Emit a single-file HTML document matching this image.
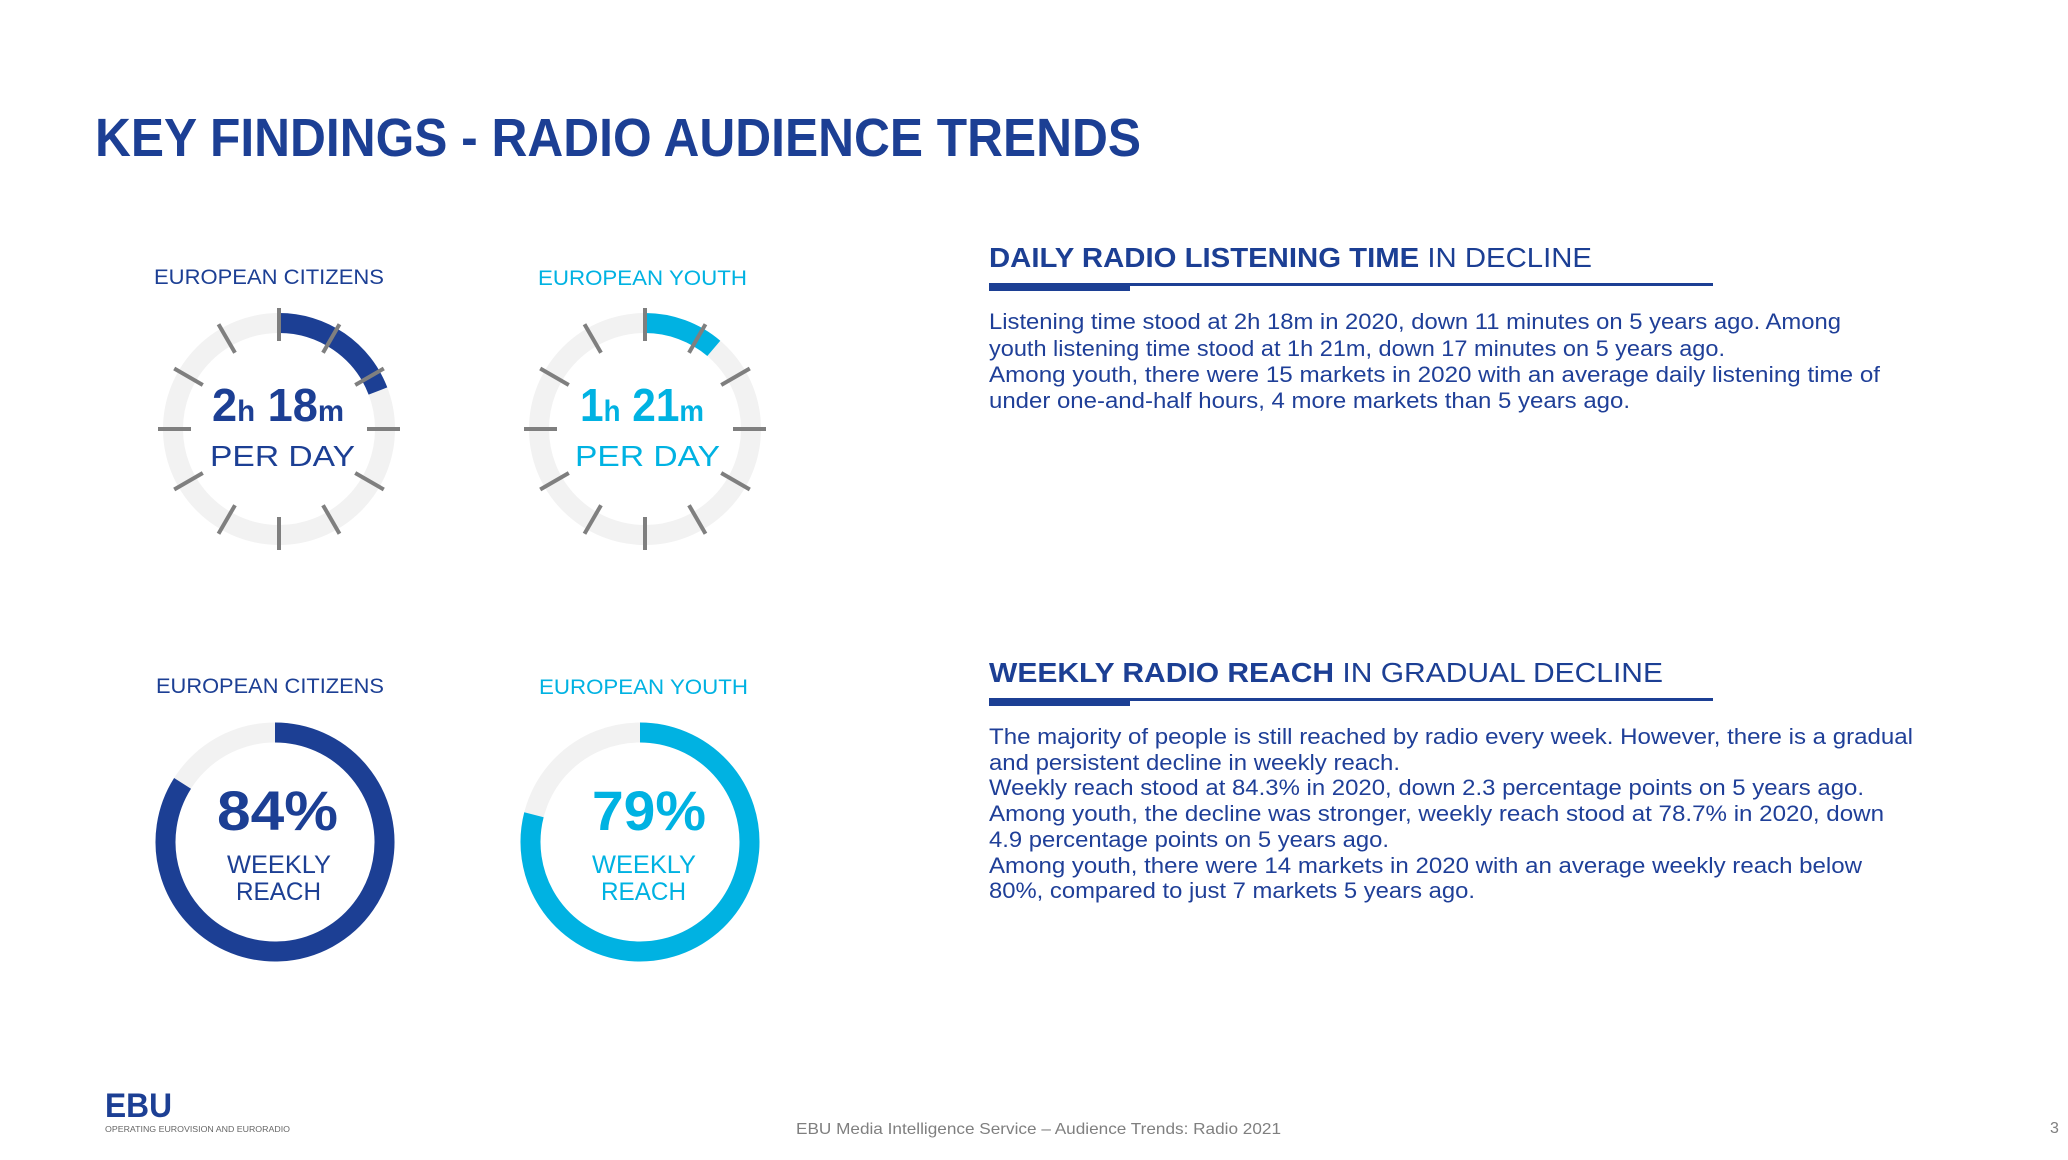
<!DOCTYPE html>
<html><head><meta charset="utf-8"><style>
html,body{margin:0;padding:0;background:#fff;}
svg{display:block;}
text{font-family:"Liberation Sans",sans-serif;}
</style></head><body>
<svg width="2068" height="1160" viewBox="0 0 2068 1160" xmlns="http://www.w3.org/2000/svg">
<rect width="2068" height="1160" fill="#fff"/>
<text x="95" y="156" font-size="54" font-weight="bold" fill="#1c3f94" textLength="1046" lengthAdjust="spacingAndGlyphs">KEY FINDINGS - RADIO AUDIENCE TRENDS</text>

<!-- labels -->
<text x="154" y="284" font-size="21" fill="#1c3f94" textLength="230" lengthAdjust="spacingAndGlyphs">EUROPEAN CITIZENS</text>
<text x="538" y="285" font-size="21" fill="#00b2e2" textLength="209" lengthAdjust="spacingAndGlyphs">EUROPEAN YOUTH</text>
<text x="156" y="693" font-size="21" fill="#1c3f94" textLength="228" lengthAdjust="spacingAndGlyphs">EUROPEAN CITIZENS</text>
<text x="539" y="694" font-size="21" fill="#00b2e2" textLength="209" lengthAdjust="spacingAndGlyphs">EUROPEAN YOUTH</text>

<!-- top citizens gauge -->
<circle cx="279" cy="429" r="106" fill="none" stroke="#f2f2f2" stroke-width="20"/>
<path d="M279 323 A106 106 0 0 1 377.96 391.0" fill="none" stroke="#1c3f94" stroke-width="20"/>
<g stroke="#7f7f7f" stroke-width="4">
<line x1="279" y1="308" x2="279" y2="341"/>
<line x1="279" y1="308" x2="279" y2="341" transform="rotate(30 279 429)"/>
<line x1="279" y1="308" x2="279" y2="341" transform="rotate(60 279 429)"/>
<line x1="279" y1="308" x2="279" y2="341" transform="rotate(90 279 429)"/>
<line x1="279" y1="308" x2="279" y2="341" transform="rotate(120 279 429)"/>
<line x1="279" y1="308" x2="279" y2="341" transform="rotate(150 279 429)"/>
<line x1="279" y1="308" x2="279" y2="341" transform="rotate(180 279 429)"/>
<line x1="279" y1="308" x2="279" y2="341" transform="rotate(210 279 429)"/>
<line x1="279" y1="308" x2="279" y2="341" transform="rotate(240 279 429)"/>
<line x1="279" y1="308" x2="279" y2="341" transform="rotate(270 279 429)"/>
<line x1="279" y1="308" x2="279" y2="341" transform="rotate(300 279 429)"/>
<line x1="279" y1="308" x2="279" y2="341" transform="rotate(330 279 429)"/>
</g>
<text x="212" y="421" font-weight="bold" fill="#1c3f94" textLength="132" lengthAdjust="spacingAndGlyphs"><tspan font-size="46">2</tspan><tspan font-size="30">h</tspan><tspan font-size="46"> 18</tspan><tspan font-size="30">m</tspan></text>
<text x="210" y="466" font-size="29" fill="#1c3f94" textLength="145" lengthAdjust="spacingAndGlyphs">PER DAY</text>

<!-- top youth gauge -->
<circle cx="645" cy="429" r="106" fill="none" stroke="#f2f2f2" stroke-width="20"/>
<path d="M645 323 A106 106 0 0 1 713.8 348.4" fill="none" stroke="#00b2e2" stroke-width="20"/>
<g stroke="#7f7f7f" stroke-width="4">
<line x1="645" y1="308" x2="645" y2="341"/>
<line x1="645" y1="308" x2="645" y2="341" transform="rotate(30 645 429)"/>
<line x1="645" y1="308" x2="645" y2="341" transform="rotate(60 645 429)"/>
<line x1="645" y1="308" x2="645" y2="341" transform="rotate(90 645 429)"/>
<line x1="645" y1="308" x2="645" y2="341" transform="rotate(120 645 429)"/>
<line x1="645" y1="308" x2="645" y2="341" transform="rotate(150 645 429)"/>
<line x1="645" y1="308" x2="645" y2="341" transform="rotate(180 645 429)"/>
<line x1="645" y1="308" x2="645" y2="341" transform="rotate(210 645 429)"/>
<line x1="645" y1="308" x2="645" y2="341" transform="rotate(240 645 429)"/>
<line x1="645" y1="308" x2="645" y2="341" transform="rotate(270 645 429)"/>
<line x1="645" y1="308" x2="645" y2="341" transform="rotate(300 645 429)"/>
<line x1="645" y1="308" x2="645" y2="341" transform="rotate(330 645 429)"/>
</g>
<text x="580" y="421" font-weight="bold" fill="#00b2e2" textLength="124" lengthAdjust="spacingAndGlyphs"><tspan font-size="46">1</tspan><tspan font-size="30">h</tspan><tspan font-size="46"> 21</tspan><tspan font-size="30">m</tspan></text>
<text x="575" y="466" font-size="29" fill="#00b2e2" textLength="145" lengthAdjust="spacingAndGlyphs">PER DAY</text>

<!-- bottom donuts -->
<circle cx="275" cy="842" r="109.5" fill="none" stroke="#f2f2f2" stroke-width="20"/>
<path d="M275 732.5 A109.5 109.5 0 1 1 182.55 783.33" fill="none" stroke="#1c3f94" stroke-width="20"/>
<text x="217" y="830" font-size="56" font-weight="bold" fill="#1c3f94" textLength="121" lengthAdjust="spacingAndGlyphs">84%</text>
<text x="227" y="873" font-size="25" fill="#1c3f94" textLength="104" lengthAdjust="spacingAndGlyphs">WEEKLY</text>
<text x="236" y="900" font-size="25" fill="#1c3f94" textLength="85" lengthAdjust="spacingAndGlyphs">REACH</text>

<circle cx="640" cy="842" r="109.5" fill="none" stroke="#f2f2f2" stroke-width="20"/>
<path d="M640 732.5 A109.5 109.5 0 1 1 533.94 814.77" fill="none" stroke="#00b2e2" stroke-width="20"/>
<text x="592" y="830" font-size="56" font-weight="bold" fill="#00b2e2" textLength="114" lengthAdjust="spacingAndGlyphs">79%</text>
<text x="592" y="873" font-size="25" fill="#00b2e2" textLength="104" lengthAdjust="spacingAndGlyphs">WEEKLY</text>
<text x="601" y="900" font-size="25" fill="#00b2e2" textLength="85" lengthAdjust="spacingAndGlyphs">REACH</text>

<!-- section 1 -->
<text x="989" y="267" font-size="28" fill="#1c3f94" textLength="603" lengthAdjust="spacingAndGlyphs"><tspan font-weight="bold">DAILY RADIO LISTENING TIME</tspan> IN DECLINE</text>
<rect x="989" y="283" width="724" height="3" fill="#1c3f94"/>
<rect x="989" y="283" width="141" height="8" fill="#1c3f94"/>
<g font-size="22" fill="#1f3f98">
<text x="989" y="329" textLength="852" lengthAdjust="spacingAndGlyphs">Listening time stood at 2h 18m in 2020, down 11 minutes on 5 years ago. Among</text>
<text x="989" y="356" textLength="736" lengthAdjust="spacingAndGlyphs">youth listening time stood at 1h 21m, down 17 minutes on 5 years ago.</text>
<text x="989" y="382" textLength="891" lengthAdjust="spacingAndGlyphs">Among youth, there were 15 markets in 2020 with an average daily listening time of</text>
<text x="989" y="408" textLength="641" lengthAdjust="spacingAndGlyphs">under one-and-half hours, 4 more markets than 5 years ago.</text>
</g>

<!-- section 2 -->
<text x="989" y="682" font-size="28" fill="#1c3f94" textLength="674" lengthAdjust="spacingAndGlyphs"><tspan font-weight="bold">WEEKLY RADIO REACH</tspan> IN GRADUAL DECLINE</text>
<rect x="989" y="698" width="724" height="3" fill="#1c3f94"/>
<rect x="989" y="698" width="141" height="8" fill="#1c3f94"/>
<g font-size="22" fill="#1f3f98">
<text x="989" y="744" textLength="924" lengthAdjust="spacingAndGlyphs">The majority of people is still reached by radio every week. However, there is a gradual</text>
<text x="989" y="770" textLength="411" lengthAdjust="spacingAndGlyphs">and persistent decline in weekly reach.</text>
<text x="989" y="795" textLength="875" lengthAdjust="spacingAndGlyphs">Weekly reach stood at 84.3% in 2020, down 2.3 percentage points on 5 years ago.</text>
<text x="989" y="821" textLength="895" lengthAdjust="spacingAndGlyphs">Among youth, the decline was stronger, weekly reach stood at 78.7% in 2020, down</text>
<text x="989" y="847" textLength="400" lengthAdjust="spacingAndGlyphs">4.9 percentage points on 5 years ago.</text>
<text x="989" y="873" textLength="873" lengthAdjust="spacingAndGlyphs">Among youth, there were 14 markets in 2020 with an average weekly reach below</text>
<text x="989" y="898" textLength="486" lengthAdjust="spacingAndGlyphs">80%, compared to just 7 markets 5 years ago.</text>
</g>

<!-- footer -->
<text x="105" y="1117" font-size="34" font-weight="bold" fill="#1c3f94" textLength="67" lengthAdjust="spacingAndGlyphs">EBU</text>
<text x="105" y="1132" font-size="8" fill="#666" textLength="185" lengthAdjust="spacingAndGlyphs">OPERATING EUROVISION AND EURORADIO</text>
<text x="796" y="1134" font-size="16" fill="#7f7f7f" textLength="485" lengthAdjust="spacingAndGlyphs">EBU Media Intelligence Service – Audience Trends: Radio 2021</text>
<text x="2050" y="1133" font-size="16" fill="#7f7f7f">3</text>
</svg>
</body></html>
